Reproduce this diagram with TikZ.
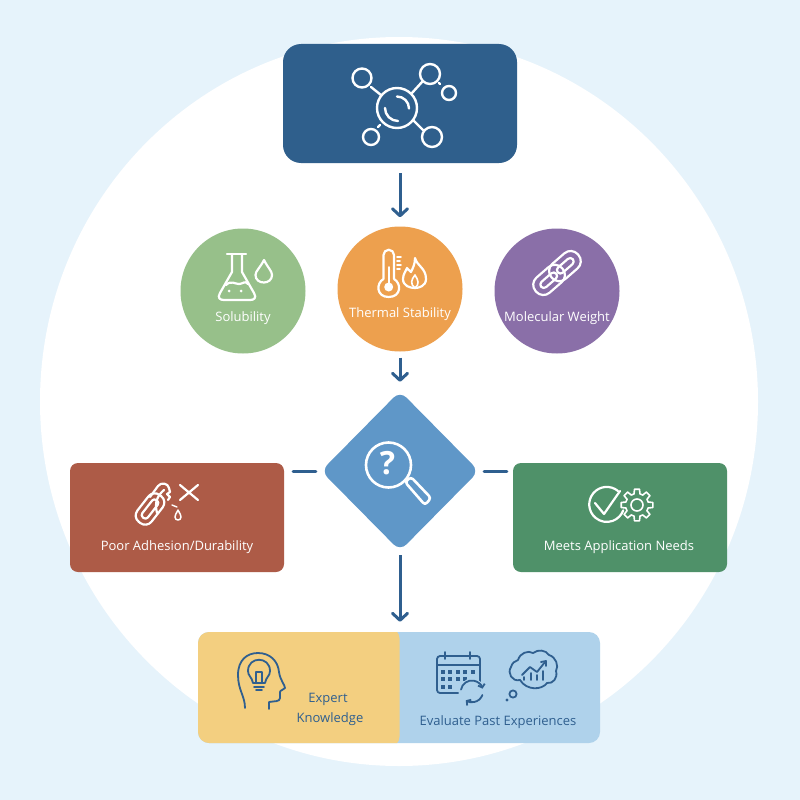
\documentclass[tikz,border=0pt]{standalone}
\usepackage{fontspec}
\setmainfont{Open Sans}
\usetikzlibrary{arrows.meta,shapes.geometric}
\definecolor{bgblue}{HTML}{E6F3FB}
\definecolor{navy}{HTML}{2F5F8C}
\definecolor{inkblue}{HTML}{2F5F8F}
\definecolor{cgreen}{HTML}{97C08A}
\definecolor{corange}{HTML}{EDA04E}
\definecolor{cpurple}{HTML}{8A6FA8}
\definecolor{cdiamond}{HTML}{5F97C8}
\definecolor{cred}{HTML}{AD5B47}
\definecolor{cdgreen}{HTML}{4F9169}
\definecolor{cyellow}{HTML}{F3CF80}
\definecolor{clblue}{HTML}{AFD2EB}
\tikzset{
  x=1pt,y=-1pt,
  boxnode/.style={rectangle,rounded corners=#1,inner sep=0pt,draw=none},
  circnode/.style={circle,minimum size=125pt,inner sep=0pt,draw=none},
  lbl/.style={font=\fontsize{13}{15}\selectfont,text=white,inner sep=0pt,align=center},
  lbldark/.style={font=\fontsize{13}{15}\selectfont,text=inkblue,inner sep=0pt,align=center},
  arrowline/.style={draw=inkblue,line width=3pt,-{Straight Barb[length=7pt,width=15pt,line width=3pt,round]}},
  dashline/.style={draw=inkblue,line width=3pt,line cap=round},
  icon/.style={draw=white,line width=2.2pt,line cap=round,line join=round,fill=none},
  darkicon/.style={draw=inkblue,line width=1.8pt,line cap=round,line join=round,fill=none},
}
\begin{document}
\begin{tikzpicture}
\useasboundingbox (0,0) rectangle (800,800);
\fill[bgblue] (0,0) rectangle (800,800);
\node[ellipse,fill=white,minimum width=718pt,minimum height=729pt,inner sep=0pt] (halo) at (399,401.5) {};

% main nodes
\node[boxnode=18pt,fill=navy,minimum width=234pt,minimum height=119pt] (top) at (400,103.5) {};
\node[circnode,fill=cgreen] (sol) at (243,291) {};
\node[circnode,fill=corange] (therm) at (400,289) {};
\node[circnode,fill=cpurple] (mol) at (557,291) {};
\node[diamond,rounded corners=9pt,fill=cdiamond,inner sep=0pt,minimum width=158pt,minimum height=160pt] (dec) at (400,471) {};
\node[boxnode=8pt,fill=cred,minimum width=214pt,minimum height=109pt] (poor) at (177,517.5) {};
\node[boxnode=8pt,fill=cdgreen,minimum width=214pt,minimum height=109pt] (meets) at (620,517.5) {};
\node[boxnode=11pt,fill=clblue,minimum width=402pt,minimum height=111pt,
  path picture={\fill[cyellow] (-202,-60) rectangle (0.5,60);}] (bottom) at (399,687.5) {};

% connectors
\coordinate (bt) at (dec |- bottom.north);
\coordinate (lstart) at (poor.east |- dec.west);
\coordinate (rstart) at (meets.west |- dec.east);
\draw[arrowline,shorten <=10pt,shorten >=9pt] (top) -- (therm);
\draw[arrowline,shorten <=6pt,shorten >=9pt] (therm) -- (dec);
\draw[arrowline,shorten <=4pt,shorten >=10pt] (dec.south) -- (bt);
\draw[dashline,shorten <=9pt,shorten >=5pt] (lstart) -- (dec.west);
\draw[dashline,shorten <=5pt,shorten >=6pt] (dec.east) -- (rstart);

% labels
\node[lbl] (tsol) at (243,318) {Solubility};
\node[lbl] (tthe) at (400,314) {Thermal Stability};
\node[lbl] (tmol) at (557,318) {Molecular Weight};
\node[lbl] (tpoor) at (177,547) {Poor Adhesion/Durability};
\node[lbl] (tmeet) at (619,547) {Meets Application Needs};
\node[lbldark] (tex1) at (328,699) {Expert};
\node[lbldark] (tex2) at (330,719) {Knowledge};
\node[lbldark] (tev) at (498,722) {Evaluate Past Experiences};

% molecule icon
\begin{scope}[icon,line width=2.4pt]
\draw (397,108) circle (20);
\draw (362,78) circle (9.5) (430,74) circle (10) (449,93) circle (7) (371,137) circle (8) (432,137) circle (10);
\draw (371,87) -- (381,95);
\draw (422,82) -- (412,93);
\draw (413,120) -- (423,130);
\draw (378,127) -- (380,125);
\draw (439,83) -- (440,84);
\draw (397,96.5) arc (-90:0:12);
\draw (385,108) arc (180:90:13);
\end{scope}

% flask and drop
\begin{scope}[icon]
\draw (227,254) -- (246,254);
\draw (232,254) -- (232,272) -- (220,293) .. controls (217,298) and (220,300) .. (224,300) -- (250,300) .. controls (254,300) and (257,298) .. (254,293) -- (242,272) -- (242,254);
\draw (226,285) .. controls (231,280) and (235,284) .. (239,284) .. controls (243,284) and (245,280) .. (248,284);
\draw (264,260) .. controls (260,268) and (255.5,271) .. (255.5,275) .. controls (255.5,285) and (272,285) .. (272,275) .. controls (272,271) and (268,268) .. (264,260) -- cycle;
\fill[white] (229,291) circle (1.5) (241,291) circle (1.5);
\end{scope}

% thermometer and flame
\begin{scope}[icon]
\draw (394,279) -- (394,255) arc (0:-180:5.25) -- (383.5,279) .. controls (376,283) and (376,297) .. (388.7,297) .. controls (401.5,297) and (401.5,283) .. (394,279);
\fill[white] (388.7,287) circle (4.5);
\draw[line width=1.8pt] (388.7,287) -- (388.7,267);
\draw[line width=1.6pt] (397,257) -- (401,257) (397,261) -- (400,261) (397,265) -- (401,265) (397,269) -- (400,269);
\draw (415,258) .. controls (417,266) and (426,268) .. (426,279) .. controls (426,286) and (419,288) .. (415,288) .. controls (410,288) and (403,286) .. (403,279) .. controls (403,274) and (406,271) .. (407,268) .. controls (409,271) and (411,271) .. (411,272) .. controls (413,268) and (415,264) .. (415,258) -- cycle;
\draw[line width=1.6pt] (415,288) .. controls (410,284) and (411,280) .. (415,275) .. controls (418,280) and (420,284) .. (415,288);
\end{scope}

% chain
\begin{scope}[shift={(557,273)},rotate=41,icon]
\draw[rounded corners=9.5pt] (-28,-10) rectangle (7,10);
\draw[rounded corners=3.5pt] (-21,-3.5) rectangle (-1,3.5);
\draw[rounded corners=9.5pt] (-7,-10) rectangle (28,10);
\draw[rounded corners=3.5pt] (1,-3.5) rectangle (21,3.5);
\end{scope}

% magnifier
\begin{scope}[icon,line width=2.6pt]
\draw (388.5,465) circle (22.5);
\draw[rounded corners=3pt] (405,482) -- (411,477) -- (431,498) -- (425,505) -- cycle;
\end{scope}
\node[font=\fontsize{32}{34}\selectfont\bfseries,text=white,inner sep=0pt] (qm) at (387.5,463) {?};

% broken chain, cross and drop
\begin{scope}[icon]
\begin{scope}[shift={(150,509)},rotate=52]
\draw[rounded corners=8pt] (-17,-9) rectangle (17,9);
\draw[rounded corners=3pt] (-11,-3.5) rectangle (11,3.5);
\end{scope}
\draw (150,497) -- (158,486) .. controls (161,482) and (168,483) .. (169,488) -- (170,492) -- (167,494) -- (170,497) -- (168,500);
\draw (164,490) .. controls (158,495) and (154,502) .. (157,513);
\draw (180,485) -- (198,500) (198,485) -- (180,500);
\draw[line width=1.4pt] (172,505) -- (177,507);
\draw[line width=1.5pt] (178,510) .. controls (176,514) and (175,515) .. (175,517) .. controls (175,521) and (181,521) .. (181,517) .. controls (181,515) and (180,514) .. (178,510) -- cycle;
\end{scope}

% check and gear
\begin{scope}[icon]
\draw (618,491) arc (-50:-340:17.5);
\draw (595,503) -- (604,514) -- (620,491);
\begin{scope}[shift={(637,505)},line width=1.6pt]
\draw (0,0) circle (6);
\foreach \a in {0,45,...,315}{
  \draw ({\a-15}:11.5) -- ({\a-9}:16) -- ({\a+9}:16) -- ({\a+15}:11.5) -- ({\a+30}:11.5);
}
\end{scope}
\end{scope}

% head with bulb
\begin{scope}[darkicon]
\draw (245,708) .. controls (245,696) and (238,690) .. (238,675) .. controls (238,660) and (247,653) .. (258,653) .. controls (270,653) and (278,661) .. (279,672) .. controls (280,680) and (285,685) .. (285,688) .. controls (284,690) and (280,690) .. (280,692) -- (280,698) .. controls (280,702) and (274,701) .. (269,702) -- (269,709);
\draw (253,683) .. controls (252,677) and (248,676) .. (248,671) .. controls (248,656) and (270,656) .. (270,671) .. controls (270,676) and (266,677) .. (265,683) -- cycle;
\draw (256,683) -- (256,672) -- (262,672) -- (262,683);
\draw (254,687) -- (264,687) (256,690) -- (262,690);
\end{scope}

% calendar, cycle
\begin{scope}[darkicon]
\draw[rounded corners=3pt] (437,656) rectangle (480,693);
\draw (437,665) -- (480,665);
\draw (445,652) -- (445,659) (470,652) -- (470,659);
\end{scope}
\foreach \gy/\xs in {672/{443,450,458,465,473},679/{443,450,458,465},687/{443,450}}{
  \foreach \gx in \xs {\fill[inkblue] (\gx-2.3,\gy-2.2) rectangle (\gx+2.3,\gy+2.2);}
}
\fill[clblue] (472,692) circle (13.5);
\begin{scope}[darkicon]
\draw[-{Straight Barb[length=3pt,width=7pt]}] (461,689.6) arc (190:345:11);
\draw[-{Straight Barb[length=3pt,width=7pt]}] (482.4,695) arc (20:125:11);
\end{scope}

% thought cloud
\begin{scope}[darkicon]
\draw (520,680) .. controls (512,682) and (507,673) .. (511,667) .. controls (512,663) and (515,661) .. (518,660) .. controls (520,653) and (528,650) .. (533,653) .. controls (538,649) and (546,650) .. (549,655) .. controls (556,657) and (559,666) .. (556,671) .. controls (558,678) and (553,684) .. (547,683) .. controls (542,690) and (527,691) .. (520,680) -- cycle;
\draw (513,694) circle (3.6);
\draw (522,675) -- (530,667) -- (537,672) -- (545,662);
\draw (541,662) -- (546,661) -- (546,666);
\draw (524,677) -- (524,680) (531,673) -- (531,680) (537,675) -- (537,680) (543,671) -- (543,680);
\end{scope}
\fill[inkblue] (507,700) circle (1.6);
\end{tikzpicture}
\end{document}
